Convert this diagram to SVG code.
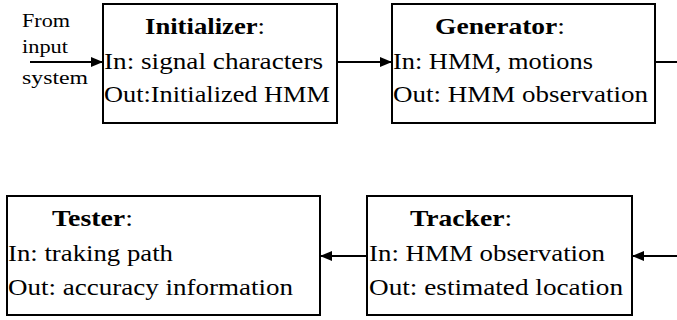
<svg xmlns="http://www.w3.org/2000/svg" width="677" height="320" viewBox="0 0 677 320">
  <style>
    .box { fill: #ffffff; stroke: #000000; stroke-width: 2; }
    .t { font-size: 18px; fill: #000000; }
    .b { font-weight: bold; }
    .s { font-size: 15px; fill: #000000; }
    .wire { stroke: #000000; stroke-width: 2; fill: none; }
  </style>
  <defs>
    <marker id="arrow" markerWidth="12" markerHeight="10" refX="12" refY="5" orient="auto" markerUnits="userSpaceOnUse">
      <path d="M0,0 L12,5 L0,10 Z" fill="#000000"/>
    </marker>
  </defs>

  <rect width="677" height="320" fill="#ffffff"/>

  <!-- text is set small and scaled up so the serif face is kept -->
  <g font-family="Liberation Serif, Times New Roman, serif">
    <g id="input-label">
      <text class="s" transform="translate(22 27) scale(1.3)" textLength="36.9" lengthAdjust="spacingAndGlyphs">From</text>
      <text class="s" transform="translate(22 53) scale(1.3)" textLength="35.4" lengthAdjust="spacingAndGlyphs">input</text>
      <text class="s" transform="translate(22 84) scale(1.3)" textLength="50.8" lengthAdjust="spacingAndGlyphs">system</text>
    </g>

    <g id="initializer">
      <rect class="box" x="103" y="4" width="234" height="119"/>
      <text class="t" transform="translate(145 34) scale(1.3)" textLength="92.3" lengthAdjust="spacingAndGlyphs"><tspan class="b">Initializer</tspan>:</text>
      <text class="t" transform="translate(104 69) scale(1.3)" textLength="168.5" lengthAdjust="spacingAndGlyphs">In: signal characters</text>
      <text class="t" transform="translate(104 102) scale(1.3)" textLength="173.8" lengthAdjust="spacingAndGlyphs">Out:Initialized HMM</text>
    </g>

    <g id="generator">
      <rect class="box" x="392" y="4" width="263" height="119"/>
      <text class="t" transform="translate(435 34) scale(1.3)" textLength="100" lengthAdjust="spacingAndGlyphs"><tspan class="b">Generator</tspan>:</text>
      <text class="t" transform="translate(393 69) scale(1.3)" textLength="153.8" lengthAdjust="spacingAndGlyphs">In: HMM, motions</text>
      <text class="t" transform="translate(393 102) scale(1.3)" textLength="196.2" lengthAdjust="spacingAndGlyphs">Out: HMM observation</text>
    </g>

    <g id="tracker">
      <rect class="box" x="367" y="196" width="265" height="119"/>
      <text class="t" transform="translate(410 226) scale(1.3)" textLength="78.5" lengthAdjust="spacingAndGlyphs"><tspan class="b">Tracker</tspan>:</text>
      <text class="t" transform="translate(369 261) scale(1.3)" textLength="181.5" lengthAdjust="spacingAndGlyphs">In: HMM observation</text>
      <text class="t" transform="translate(369 295) scale(1.3)" textLength="195.4" lengthAdjust="spacingAndGlyphs">Out: estimated location</text>
    </g>

    <g id="tester">
      <rect class="box" x="7" y="196" width="313" height="119"/>
      <text class="t" transform="translate(52 226) scale(1.3)" textLength="62.3" lengthAdjust="spacingAndGlyphs"><tspan class="b">Tester</tspan>:</text>
      <text class="t" transform="translate(8 261) scale(1.3)" textLength="126.9" lengthAdjust="spacingAndGlyphs">In: traking path</text>
      <text class="t" transform="translate(8 295) scale(1.3)" textLength="219.2" lengthAdjust="spacingAndGlyphs">Out: accuracy information</text>
    </g>
  </g>

  <g id="connectors">
    <line class="wire" x1="30" y1="62" x2="103" y2="62" marker-end="url(#arrow)"/>
    <line class="wire" x1="337" y1="62" x2="392" y2="62" marker-end="url(#arrow)"/>
    <line class="wire" x1="655" y1="62" x2="677" y2="62"/>
    <line class="wire" x1="677" y1="256" x2="632" y2="256" marker-end="url(#arrow)"/>
    <line class="wire" x1="367" y1="256" x2="320" y2="256" marker-end="url(#arrow)"/>
  </g>
</svg>
